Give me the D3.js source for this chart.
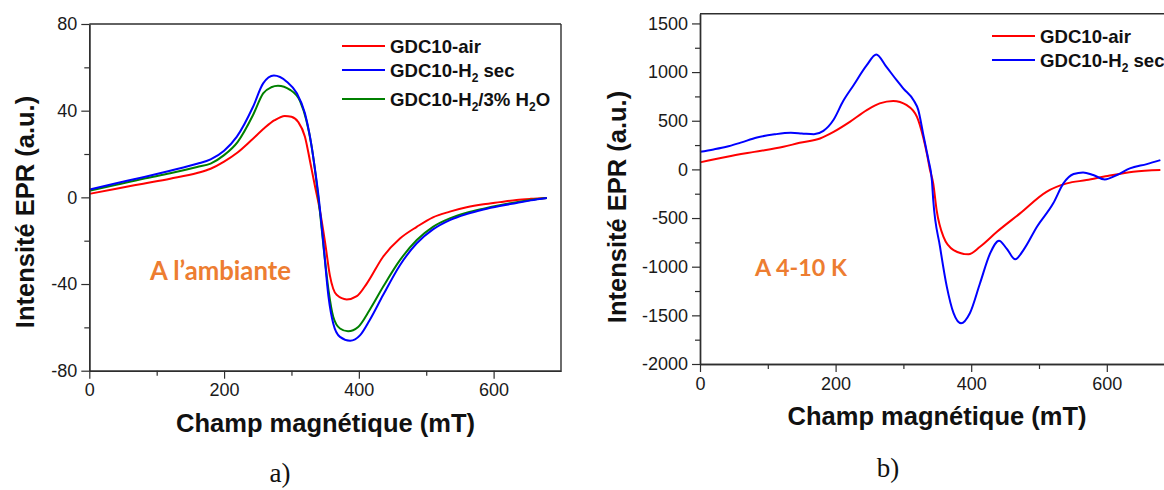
<!DOCTYPE html>
<html><head><meta charset="utf-8">
<script src="https://cdn.jsdelivr.net/npm/d3@7"></script>
<style>body{margin:0;background:#fff}svg{display:block}</style>
</head><body>
<svg id="c" width="1164" height="490"></svg>
<script>
// ---------- Data: panel a) room temperature ----------
const airA_field = [0,40,80,120,160,180,200,220,240,260,275,290,300,310,320,328,335,341,350,357,367,382,397,412,436,461,486,510,535,560,585,609,634,655,679];
const airA_int   = [1.6,4.0,6.3,8.6,11.2,13.2,16.5,20.7,26.2,32.0,35.6,37.6,37.2,34.8,28.0,16,5,-4,-21,-36,-45,-47.1,-45.6,-39.7,-27.4,-19,-13.6,-9.2,-6.6,-4.6,-3.2,-2.2,-1.2,-0.7,-0.3];
const secA_field = [0,40,80,120,160,180,200,219,243,258,274,293,308,320,327.5,334,340,347,355,362,372,387,402,416,436,461,486,510,535,560,585,609,634,655,679];
const secA_int   = [3.6,6.5,9.3,12.3,15.5,17.5,21.5,28,41.8,52.6,56.2,53.4,48,38.8,28,15,1,-20,-45.9,-58.2,-64.4,-66.2,-63.6,-56.7,-45.1,-31.3,-21.2,-14.8,-10.5,-7.7,-5.6,-4,-2.6,-1.4,-0.3];
const wetA_field = [0,40,80,120,160,180,200,220,243,258,270,280,298,313,322,330,336,341,348,355,362,372,384,399,416,436,461,486,510,535,560,585,609,634,655,679];
const wetA_int   = [3.0,5.8,8.6,11.1,14.0,15.6,19.5,25.5,38,48,50.8,51.5,49.6,44.2,35.7,23.4,10,-3,-24,-42.8,-55.1,-60.5,-61.8,-59.8,-52,-41.3,-29,-19.7,-13.6,-9.7,-7.1,-5.2,-3.6,-2.2,-1.2,-0.3];

// ---------- Data: panel b) 4-10 K ----------
const airB_field = [0,40,80,123,147,177,197,221,246,265,285,305,320,329,335,339,344,349,359,374,396,413,438,472,511,541,570,601,639,679];
const airB_int   = [72,130,180,232,273,318,386,489,609,678,704,660,540,335,150,0,-144,-418,-692,-829,-873,-795,-641,-452,-230,-144,-110,-69,-25,-7];
const secB_field = [0,20,39,60,84,110,134,150,168,182,197,211,226,246,260,275,290,300,315,322,329,334,337,342,344,354,364,374,385,398,413,428,441,452,465,477,497,521,536,551,565,580,597,615,634,659,679];
const secB_int   = [181,205,232,275,328,360,376,370,362,396,510,700,860,1071,1181,1053,917,831,711,609,370,198,95,-110,-315,-795,-1205,-1478,-1581,-1478,-1170,-862,-733,-811,-924,-829,-589,-349,-144,-48,-31,-58,-103,-58,10,54,95];

// ---------- Axes ticks ----------
const xMajor = [0,200,400,600];
const xMinor = [100,300,500];
const yMajorA = [-80,-40,0,40,80];
const yMinorA = [-60,-20,20,60];
const yMajorB = [-2000,-1500,-1000,-500,0,500,1000,1500];
const yMinorB = [-1750,-1250,-750,-250,250,750,1250];

const svg = d3.select('#c');
svg.append('rect').attr('width',1164).attr('height',490).attr('fill','#fff');
const AX = '#2e2e2e', FONT = '"Liberation Sans", Arial, sans-serif';
const fmt = d => String(d);

function panel(o){
  const x = d3.scaleLinear().domain([0,700]).range(o.xr);
  const y = d3.scaleLinear().domain(o.yd).range(o.yr);
  const g = svg.append('g');
  const line = d3.line().x(d=>x(d[0])).y(d=>y(d[1])).curve(d3.curveMonotoneX);
  o.series.forEach(s=>{
    g.append('path').datum(d3.zip(s.f, s.v)).attr('d', line)
      .attr('fill','none').attr('stroke', s.color).attr('stroke-width', 2).attr('stroke-linejoin','round');
  });
  const by = o.yr[0], lx = o.xr[0];
  const style = sel => {
    sel.select('.domain').attr('stroke', AX).attr('stroke-width', 1.4);
    sel.selectAll('.tick line').attr('stroke', AX).attr('stroke-width', 1.2);
    sel.selectAll('.tick text').attr('fill', '#1a1a1a').attr('font-family', FONT).attr('font-size', 18);
  };
  g.append('g').attr('transform',`translate(0,${by})`).call(d3.axisBottom(x).tickValues(xMinor).tickSize(5).tickSizeOuter(0).tickFormat('')).call(style);
  g.append('g').attr('transform',`translate(0,${by})`).call(d3.axisBottom(x).tickValues(xMajor).tickSize(8).tickPadding(5).tickSizeOuter(0).tickFormat(fmt)).call(style);
  g.append('g').attr('transform',`translate(${lx},0)`).call(d3.axisLeft(y).tickValues(o.yMinor).tickSize(5).tickSizeOuter(0).tickFormat('')).call(style);
  g.append('g').attr('transform',`translate(${lx},0)`).call(d3.axisLeft(y).tickValues(o.yMajor).tickSize(8).tickPadding(4).tickSizeOuter(0).tickFormat(fmt)).call(style);
  // frame
  g.append('line').attr('x1',lx).attr('x2',o.xr[1]).attr('y1',o.yr[1]).attr('y2',o.yr[1]).attr('stroke',AX).attr('stroke-width',1.4);
  g.append('line').attr('x1',o.xr[1]).attr('x2',o.xr[1]).attr('y1',o.yr[1]).attr('y2',by).attr('stroke',AX).attr('stroke-width',1.4);
  // axis titles
  g.append('text').attr('x', o.xt[0]).attr('y', o.xt[1]).attr('text-anchor','middle')
    .attr('font-family',FONT).attr('font-weight','bold').attr('font-size',25.5).attr('fill','#111')
    .text('Champ magnétique (mT)');
  g.append('text').attr('transform',`translate(${o.yt[0]},${o.yt[1]}) rotate(-90)`).attr('text-anchor','middle')
    .attr('font-family',FONT).attr('font-weight','bold').attr('font-size',25.5).attr('fill','#111')
    .text('Intensité EPR (a.u.)');
  // legend
  o.legend.forEach(l=>{
    g.append('line').attr('x1',l.x).attr('x2',l.x+43).attr('y1',l.y).attr('y2',l.y).attr('stroke',l.color).attr('stroke-width',2);
    const t = g.append('text').attr('x',l.x+48).attr('y',l.y+7).attr('font-family',FONT).attr('font-weight','bold').attr('font-size',18.6).attr('fill','#111');
    l.parts.forEach(p=>{
      if (p.sub) t.append('tspan').attr('font-size',12).attr('dy',5).text(p.t);
      else t.append('tspan').attr('dy', p.back ? -5 : 0).text(p.t);
    });
  });
  // annotation
  const a = g.append('text').attr('x',o.note.x).attr('y',o.note.y).attr('font-family','Lato, "Open Sans", sans-serif')
    .attr('font-weight','bold').attr('font-size',24).attr('fill','#ED7D31').text(o.note.text);
  const w = a.node().getComputedTextLength();
  a.attr('font-size', 24*o.note.w/w);
  // panel letter
  g.append('text').attr('x',o.letter.x).attr('y',o.letter.y).attr('text-anchor','middle')
    .attr('font-family','"Liberation Serif", "Times New Roman", serif').attr('font-size',27).attr('fill','#111').text(o.letter.text);
}

panel({
  xr:[89.3,561], yd:[-80,80], yr:[370.7,24],
  yMajor:yMajorA, yMinor:yMinorA,
  series:[
    {f:airA_field, v:airA_int, color:'#ff0000'},
    {f:wetA_field, v:wetA_int, color:'#008000'},
    {f:secA_field, v:secA_int, color:'#0000ff'}
  ],
  xt:[325.5,432], yt:[34,212],
  legend:[
    {x:342,y:46,color:'#ff0000',parts:[{t:'GDC10-air'}]},
    {x:342,y:70,color:'#0000ff',parts:[{t:'GDC10-H'},{t:'2',sub:true},{t:' sec',back:true}]},
    {x:342,y:99,color:'#008000',parts:[{t:'GDC10-H'},{t:'2',sub:true},{t:'/3% H',back:true},{t:'2',sub:true},{t:'O',back:true}]}
  ],
  note:{x:150,y:279.5,w:141,text:'A l’ambiante'},
  letter:{x:280,y:482,text:'a)'}
});

panel({
  xr:[700,1174.6], yd:[-2000,1600], yr:[364,13.7],
  yMajor:yMajorB, yMinor:yMinorB,
  series:[
    {f:airB_field, v:airB_int, color:'#ff0000'},
    {f:secB_field, v:secB_int, color:'#0000ff'}
  ],
  xt:[937,425], yt:[626,207],
  legend:[
    {x:992,y:36,color:'#ff0000',parts:[{t:'GDC10-air'}]},
    {x:992,y:60,color:'#0000ff',parts:[{t:'GDC10-H'},{t:'2',sub:true},{t:' sec',back:true}]}
  ],
  note:{x:755,y:275.5,w:92,text:'A 4-10 K'},
  letter:{x:888,y:477,text:'b)'}
});
</script>
</body></html>
